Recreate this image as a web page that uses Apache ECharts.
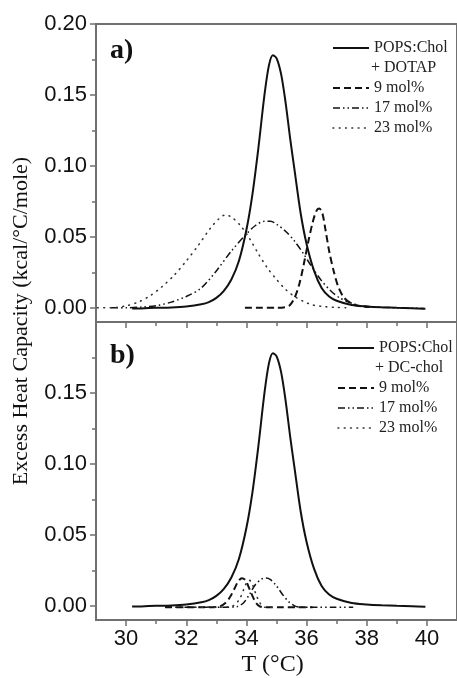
<!DOCTYPE html>
<html><head><meta charset="utf-8">
<script src="https://cdn.jsdelivr.net/npm/echarts@6/dist/echarts.min.js"></script>
<style>html,body{margin:0;padding:0;background:#fff}#c{width:457px;height:678px}</style>
</head><body><div id="c"></div>
<script>
// ---- tick labels ----
const xTickLabels = [30, 32, 34, 36, 38, 40];
const xMinorTicks = [31, 33, 35, 37, 39];
const yTickLabelsA = [0, 0.05, 0.10, 0.15, 0.20];
const yTickLabelsB = [0, 0.05, 0.10, 0.15];
const yMinorTicks = [0.025, 0.075, 0.125, 0.175];
const seriesNames = ['POPS:Chol', '9 mol%', '17 mol%', '23 mol%'];

// ---- POPS:Chol (same in both panels) ----
const solidT  = [30.2, 30.5, 31.0, 31.5, 32.0, 32.5, 32.75, 33.0, 33.25, 33.5, 33.75, 34.0, 34.2, 34.4, 34.6, 34.75, 34.88, 35.0, 35.15, 35.3, 35.45, 35.6, 35.8, 36.0, 36.25, 36.5, 36.75, 37.0, 37.5, 38.0, 38.5, 39.0, 39.5, 39.95];
const solidCp = [-0.0005, -0.0004, 0.0, 0.0003, 0.001, 0.0025, 0.004, 0.007, 0.012, 0.02, 0.033, 0.055, 0.080, 0.113, 0.150, 0.171, 0.178, 0.176, 0.165, 0.145, 0.120, 0.097, 0.067, 0.045, 0.026, 0.014, 0.008, 0.005, 0.002, 0.001, 0.0004, 0.0, -0.0003, -0.0006];

// ---- panel a) DOTAP ----
const dotap9T  = [33.95, 34.5, 35.0, 35.3, 35.45, 35.6, 35.75, 35.9, 36.05, 36.2, 36.32, 36.42, 36.52, 36.62, 36.75, 36.9, 37.05, 37.25, 37.5, 37.8, 38.1];
const dotap9Cp = [0.0, 0.0, 0.0, 0.0005, 0.002, 0.007, 0.016, 0.030, 0.046, 0.060, 0.068, 0.070, 0.067, 0.056, 0.040, 0.026, 0.015, 0.007, 0.003, 0.001, 0.0005];
const dotap17T  = [29.5, 30.0, 30.5, 31.0, 31.5, 32.0, 32.5, 33.0, 33.5, 34.0, 34.3, 34.6, 34.8, 35.0, 35.3, 35.6, 35.9, 36.2, 36.5, 36.8, 37.1, 37.4, 37.8, 38.3, 39.0, 39.9];
const dotap17Cp = [0.0, 0.0, 0.0005, 0.0015, 0.004, 0.008, 0.014, 0.026, 0.040, 0.052, 0.058, 0.061, 0.061, 0.059, 0.054, 0.047, 0.038, 0.028, 0.019, 0.012, 0.007, 0.004, 0.0015, 0.0005, 0.0, -0.0005];
const dotap23T  = [29.05, 29.5, 30.0, 30.4, 30.8, 31.2, 31.6, 32.0, 32.4, 32.8, 33.1, 33.3, 33.5, 33.8, 34.1, 34.4, 34.7, 35.0, 35.3, 35.6, 35.9, 36.2, 36.6, 37.0, 37.3];
const dotap23Cp = [0.0, 0.0, 0.0014, 0.004, 0.0085, 0.015, 0.023, 0.033, 0.044, 0.056, 0.063, 0.0655, 0.064, 0.058, 0.049, 0.038, 0.028, 0.020, 0.013, 0.008, 0.0045, 0.002, 0.0008, 0.0003, 0.0];

// ---- panel b) DC-chol ----
const dc9T  = [31.3, 32.0, 32.6, 33.1, 33.3, 33.45, 33.6, 33.72, 33.85, 33.97, 34.08, 34.2, 34.32, 34.45, 34.7, 35.2, 35.7, 36.2];
const dc9Cp = [-0.001, -0.001, -0.001, -0.0005, 0.002, 0.006, 0.012, 0.017, 0.0195, 0.018, 0.013, 0.007, 0.002, -0.0005, -0.001, -0.001, -0.001, -0.001];
const dc17T  = [31.3, 32.0, 32.7, 33.3, 33.7, 33.9, 34.1, 34.3, 34.5, 34.65, 34.8, 35.0, 35.2, 35.4, 35.6, 35.8, 36.3, 36.9, 37.55];
const dc17Cp = [-0.001, -0.001, -0.001, -0.001, -0.0005, 0.002, 0.008, 0.015, 0.0188, 0.0196, 0.0185, 0.014, 0.008, 0.003, 0.0, -0.001, -0.001, -0.001, -0.001];
const dc23T  = [32.3, 33.0, 33.5, 33.75, 33.9, 34.0, 34.1, 34.2, 34.32, 34.45, 34.6, 35.0];
const dc23Cp = [-0.001, -0.001, -0.0005, 0.004, 0.011, 0.016, 0.018, 0.015, 0.008, 0.002, -0.001, -0.001];

const pts = (t, v) => t.map((x, i) => [x, v[i]]);

const frame = '#707070';
const ink = '#111';
const sans = 'Liberation Sans';
const serif = 'Liberation Serif';
const styles = [
  {color: ink, width: 2, type: 'solid', cap: 'butt'},
  {color: ink, width: 2, type: [7, 4], cap: 'butt'},
  {color: ink, width: 1.5, type: [7, 3, 1.5, 3, 1.5, 3], cap: 'butt'},
  {color: '#333', width: 1.6, type: [0.8, 5.5], cap: 'round'}
];

function mkX(grid, labels) {
  const base = {type: 'value', gridIndex: grid, min: 29, max: 41, position: 'bottom', splitLine: {show: false}};
  return [
    Object.assign({}, base, {
      axisLine: {show: true, onZero: false, lineStyle: {color: frame, width: 2}},
      axisTick: {show: true, inside: false, length: 6, customValues: xTickLabels, lineStyle: {color: frame, width: 1.5}},
      axisLabel: labels ? {show: true, customValues: xTickLabels, margin: 8, fontFamily: sans, fontSize: 22, color: ink} : {show: false},
      name: labels ? 'T (°C)' : '', nameLocation: 'middle', nameGap: 33,
      nameTextStyle: {fontFamily: serif, fontSize: 24, color: ink, padding: [0, 8, 0, 0]}
    }),
    Object.assign({}, base, {
      axisLine: {show: false, onZero: false},
      axisTick: {show: true, inside: false, length: 4, customValues: xMinorTicks, lineStyle: {color: frame, width: 1.5}},
      axisLabel: {show: false}
    })
  ];
}
function mkY(grid, labels) {
  const base = {type: 'value', gridIndex: grid, min: -0.01, max: 0.20, position: 'left', splitLine: {show: false}};
  return [
    Object.assign({}, base, {
      axisLine: {show: true, onZero: false, lineStyle: {color: frame, width: 2}},
      axisTick: {show: true, inside: false, length: 6, customValues: labels, lineStyle: {color: frame, width: 1.5}},
      axisLabel: {show: true, customValues: labels, margin: 9, fontFamily: sans, fontSize: 22, color: ink,
                  formatter: v => Number(v).toFixed(2)}
    }),
    Object.assign({}, base, {
      axisLine: {show: false, onZero: false},
      axisTick: {show: true, inside: false, length: 4, customValues: yMinorTicks, lineStyle: {color: frame, width: 1.5}},
      axisLabel: {show: false}
    })
  ];
}

function mkSeries(axisIdx, datasets) {
  return datasets.map((d, i) => ({
    name: seriesNames[i], type: 'line', xAxisIndex: axisIdx, yAxisIndex: axisIdx,
    data: pts(d[0], d[1]), symbol: 'none', smooth: 0.3, animation: false,
    lineStyle: {color: styles[i].color, width: styles[i].width, type: styles[i].type, cap: styles[i].cap},
    itemStyle: {color: styles[i].color}
  }));
}

const legendText = {fontFamily: serif, fontSize: 16, color: '#222'};
function mkLegend(names, left, top) {
  return {
    data: names.map(n => {
      const i = seriesNames.indexOf(n);
      return {name: n, lineStyle: {width: styles[i].width}};
    }),
    left: left, top: top, orient: 'vertical', itemWidth: 36, itemHeight: 16, itemGap: 4,
    selectedMode: false, textStyle: legendText, itemStyle: {opacity: 0}, padding: 0
  };
}

const chart = echarts.init(document.getElementById('c'), null, {renderer: 'canvas'});
chart.setOption({
  animation: false,
  backgroundColor: '#fff',
  grid: [
    {left: 96, top: 24, right: -4, height: 298, show: true, borderColor: frame, borderWidth: 2, containLabel: false},
    {left: 96, top: 322, right: -4, height: 298, show: true, borderColor: frame, borderWidth: 2, containLabel: false}
  ],
  xAxis: [].concat(mkX(0, false), mkX(1, true)),
  yAxis: [].concat(mkY(0, yTickLabelsA), mkY(1, yTickLabelsB)),
  legend: [
    mkLegend(['POPS:Chol'], 332, 40),
    mkLegend(['9 mol%', '17 mol%', '23 mol%'], 332, 80),
    mkLegend(['POPS:Chol'], 337, 340),
    mkLegend(['9 mol%', '17 mol%', '23 mol%'], 337, 380)
  ],
  series: [].concat(
    mkSeries(0, [[solidT, solidCp], [dotap9T, dotap9Cp], [dotap17T, dotap17Cp], [dotap23T, dotap23Cp]]),
    mkSeries(2, [[solidT, solidCp], [dc9T, dc9Cp], [dc17T, dc17Cp], [dc23T, dc23Cp]])
  ),
  graphic: [
    {type: 'text', x: 110, y: 51, style: {text: 'a)', font: 'bold 28px "Liberation Serif"', fill: ink, verticalAlign: 'middle'}},
    {type: 'text', x: 110, y: 356, style: {text: 'b)', font: 'bold 28px "Liberation Serif"', fill: ink, verticalAlign: 'middle'}},
    {type: 'text', x: 371, y: 68, style: {text: '+ DOTAP', font: '16px "Liberation Serif"', fill: '#222', verticalAlign: 'middle'}},
    {type: 'text', x: 375, y: 368, style: {text: '+ DC-chol', font: '16px "Liberation Serif"', fill: '#222', verticalAlign: 'middle'}},
    {type: 'text', x: 21, y: 321, rotation: Math.PI / 2,
     style: {text: 'Excess Heat Capacity (kcal/°C/mole)', font: '22px "Liberation Serif"', fill: ink, align: 'center', verticalAlign: 'middle'}}
  ]
});
</script></body></html>
